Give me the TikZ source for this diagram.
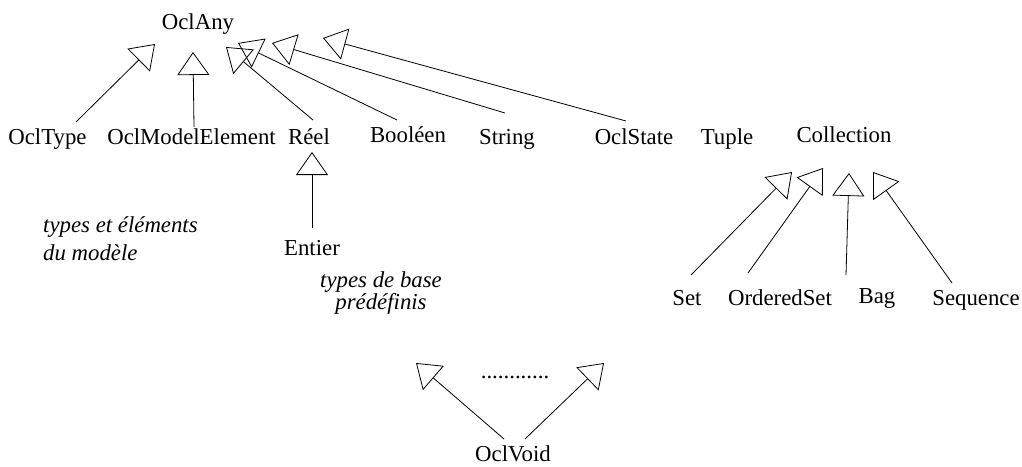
\documentclass[tikz,border=0pt]{standalone}
\usepackage{fontspec}
\setmainfont{Liberation Serif}
\usetikzlibrary{arrows.meta,calc}
\begin{document}
\begin{tikzpicture}[x=1pt,y=-1pt,
  lbl/.style={inner sep=0pt,anchor=base,font=\fontsize{22.8}{27}\selectfont},
  note/.style={inner sep=0pt,font=\fontsize{22.8}{27}\selectfont\itshape},
  gen/.style={line width=0.8pt,-{Triangle[open,length=23pt,width=32pt]}}]
\useasboundingbox (0,0) rectangle (1022,466);
% nodes
\node[lbl] (oclany) at (198,29) {OclAny};
\node[lbl] (ocltype) at (47.5,144) {OclType};
\node[lbl] (oclme) at (191.5,144) {OclModelElement};
\node[lbl] (reel) at (309,144) {Réel};
\node[lbl] (bool) at (408,142) {Booléen};
\node[lbl] (string) at (507,144) {String};
\node[lbl] (oclstate) at (634,144) {OclState};
\node[lbl] (tuple) at (727,144) {Tuple};
\node[lbl] (coll) at (844,142) {Collection};
\node[lbl] (entier) at (312,255) {Entier};
\node[lbl] (set) at (687,305) {Set};
\node[lbl] (oset) at (780,305) {OrderedSet};
\node[lbl] (bag) at (877,303) {Bag};
\node[lbl] (seq) at (976,305) {Sequence};
\node[lbl] (oclvoid) at (513,461) {OclVoid};
\node[lbl] (dots) at (515,378) {............};
\node[note,anchor=base west,align=left] (note1) at (43,260)
  {types et éléments\\[1pt]du modèle};
\node[note,anchor=base,align=center] (note2) at (381,309)
  {types de base\\[-5pt]prédéfinis};
% arrow tips (free ends)
\coordinate (tType) at (155,44);
\coordinate (tME) at (193,52);
\coordinate (tReel) at (226,47);
\coordinate (tBool) at (238,43);
\coordinate (tString) at (272,43);
\coordinate (tState) at (323,38);
\coordinate (tEntier) at (312,152);
\coordinate (tSet) at (792,172);
\coordinate (tOSet) at (823,168);
\coordinate (tBag) at (849,173);
\coordinate (tSeq) at (873,172);
\coordinate (tVoidL) at (416,363);
\coordinate (tVoidR) at (604,363);
% connectors
\draw[gen] ($(ocltype.base)+(28.5,-22)$) -- (tType);
\draw[gen] ($(oclme.base)+(2.5,-17)$) -- (tME);
\draw[gen] ($(reel.base)+(4,-24)$) -- (tReel);
\draw[gen] ($(bool.base)+(-11,-22)$) -- (tBool);
\draw[gen] ($(string.base)+(-2,-31)$) -- (tString);
\draw[gen] ($(oclstate.base)+(-8,-23)$) -- (tState);
\draw[gen] ($(entier.base)+(0,-27)$) -- (tEntier);
\draw[gen] ($(set.base)+(4,-30)$) -- (tSet);
\draw[gen] ($(oset.base)+(-32,-32)$) -- (tOSet);
\draw[gen] ($(bag.base)+(-31,-28)$) -- (tBag);
\draw[gen] ($(seq.base)+(-24,-22)$) -- (tSeq);
\draw[gen] ($(oclvoid.base)+(-9,-22)$) -- (tVoidL);
\draw[gen] ($(oclvoid.base)+(12,-22)$) -- (tVoidR);
\end{tikzpicture}
\end{document}
